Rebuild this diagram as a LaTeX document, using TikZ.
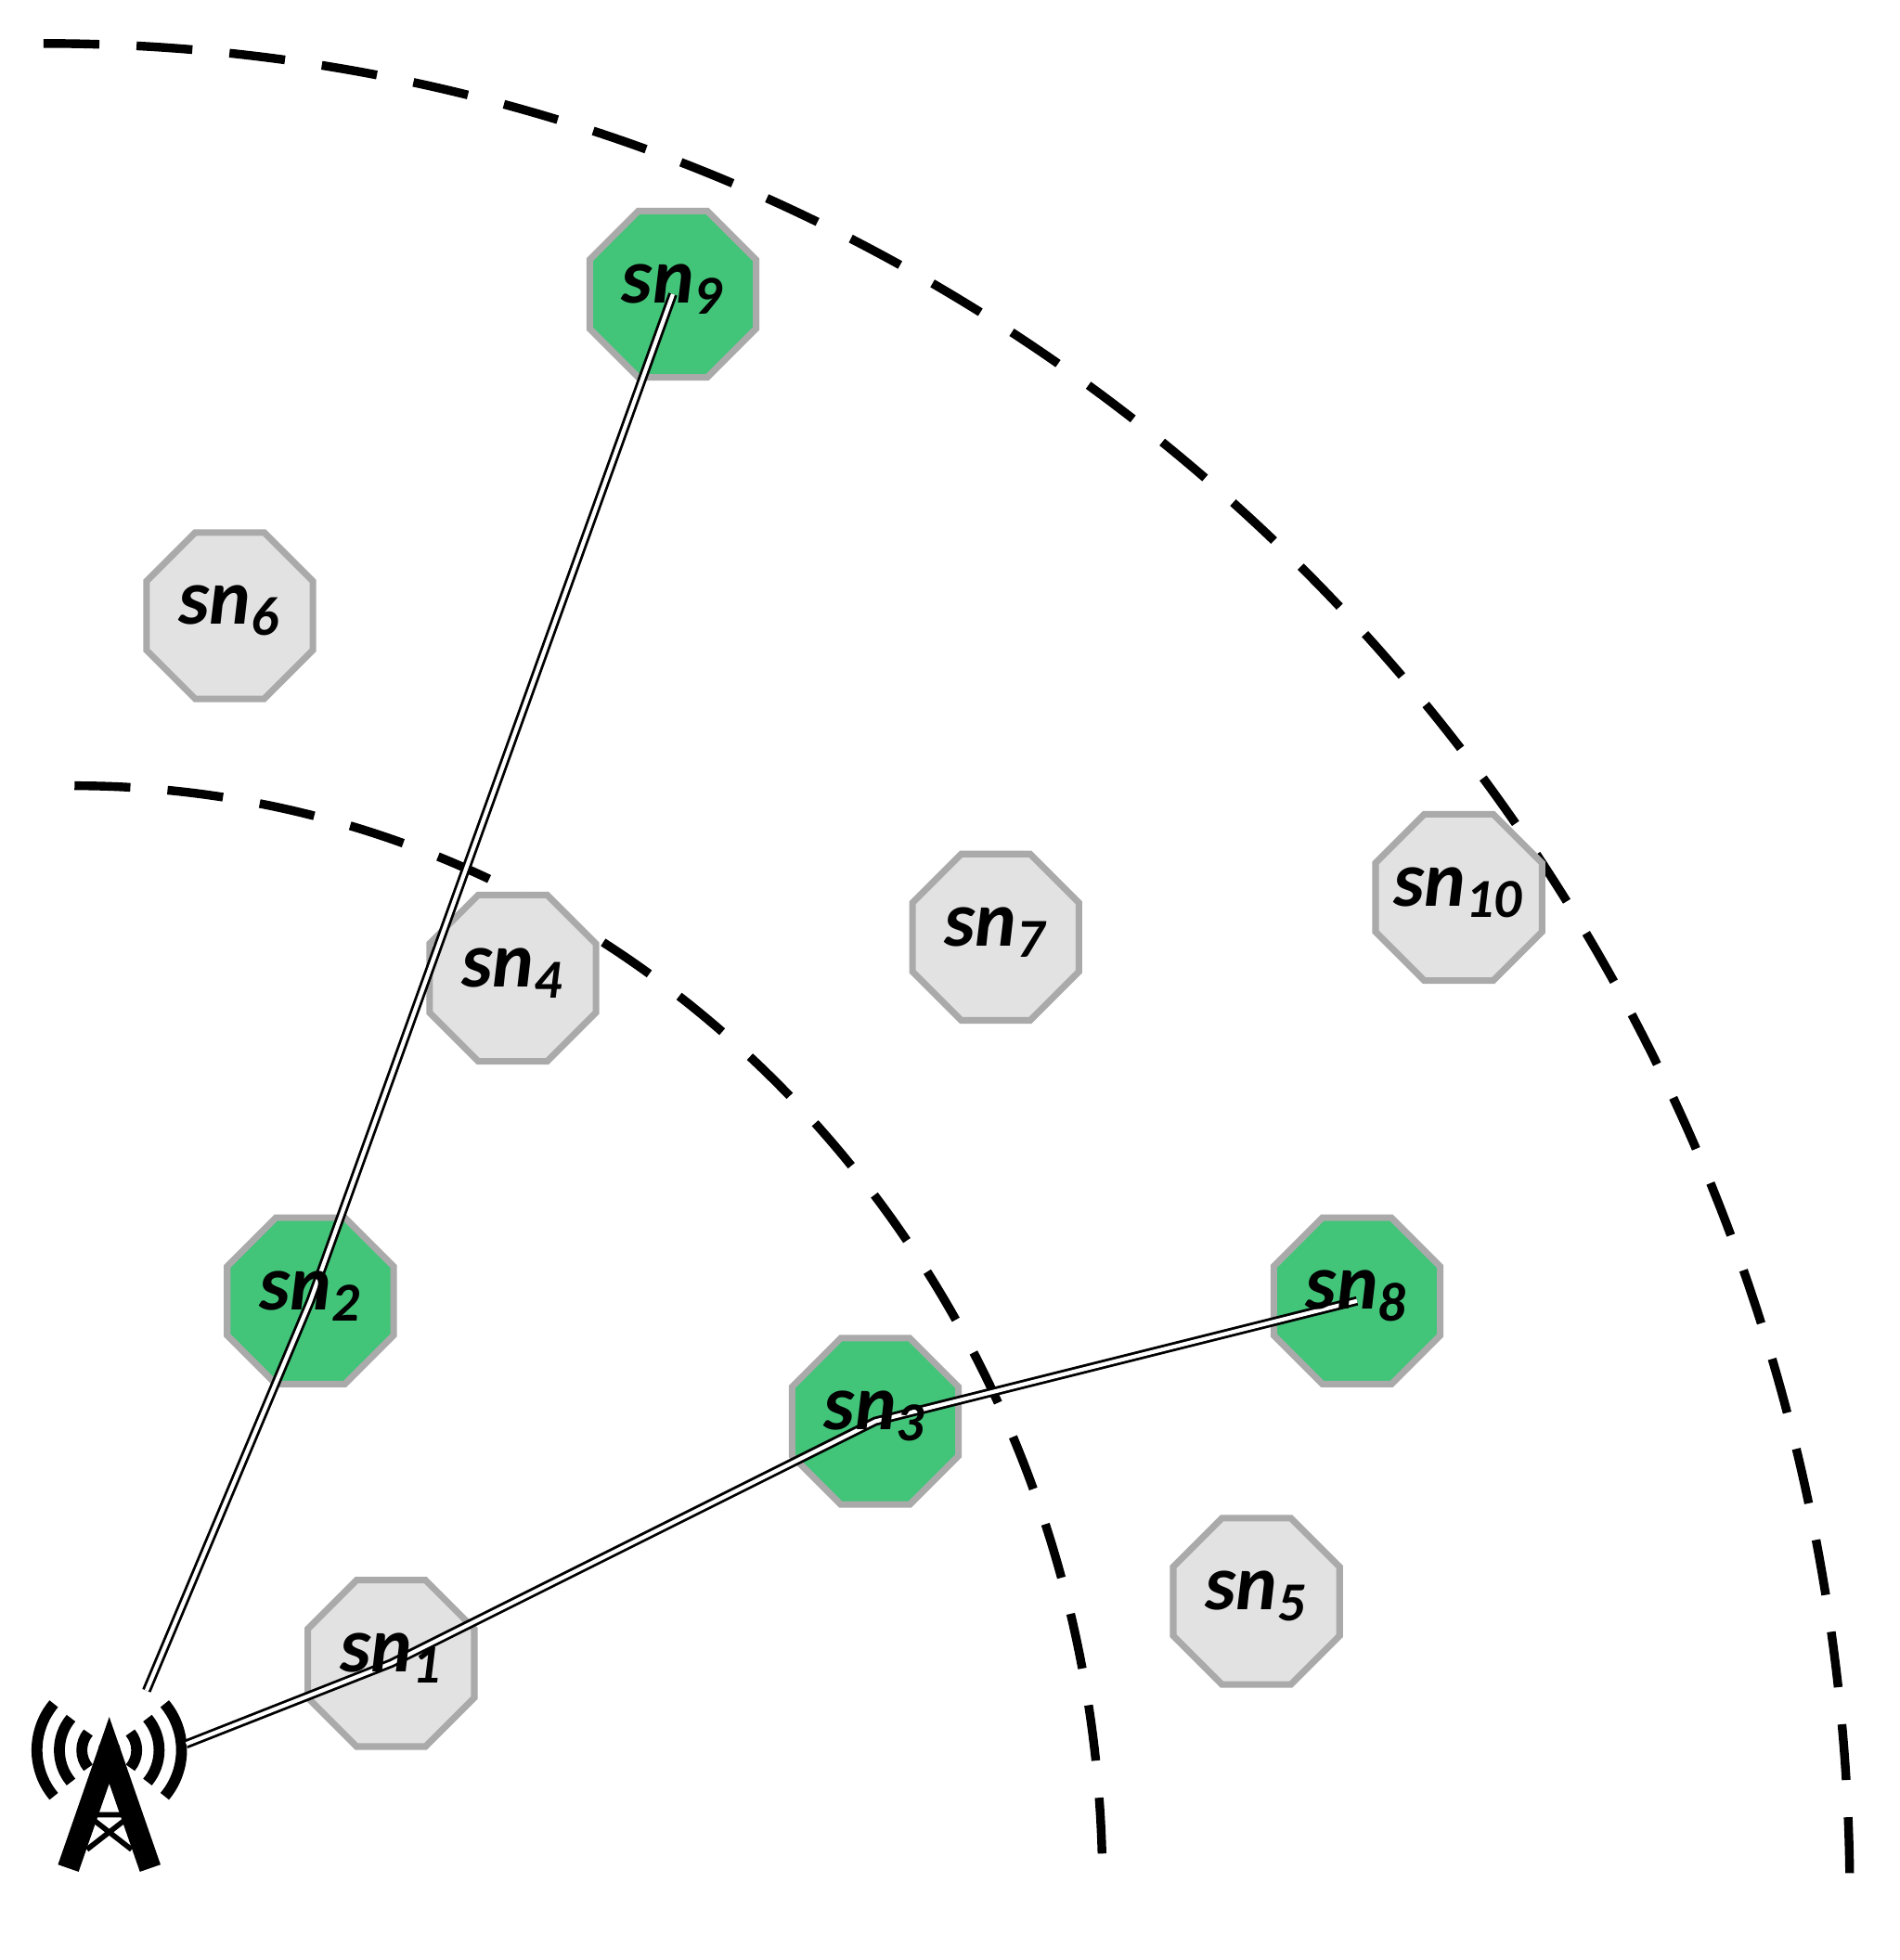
\documentclass[tikz,border=0pt]{standalone}
\usepackage{fontspec}
\setmainfont{Carlito}
\usetikzlibrary{shapes.geometric,calc}
\definecolor{gn}{RGB}{66,196,121}
\definecolor{gy}{RGB}{226,226,226}
\definecolor{bd}{RGB}{170,170,170}
\newcommand{\snl}[1]{sn\textsubscript{#1}}
\tikzset{
 lab/.style={font=\fontsize{18}{21}\selectfont\bfseries\itshape,inner sep=0pt},
 sn/.style={regular polygon,regular polygon sides=8,minimum size=1.45cm,draw=bd,line width=1.5pt,inner sep=0pt},
 grn/.style={sn,fill=gn}, gry/.style={sn,fill=gy},
 link/.style={double=white,double distance=0.9pt,line width=0.6pt,black},
 rng/.style={line width=2pt,dash pattern=on 0.45cm off 0.3cm}
}
\begin{document}
\begin{tikzpicture}[x=0.01cm,y=-0.01cm]
\useasboundingbox (0,0) rectangle (1530,1579);
\draw[rng] (60,633) arc[start angle=-90,end angle=0,x radius=828,y radius=887];
\draw[rng] (35,35) arc[start angle=-90,end angle=0,x radius=1455,y radius=1495];
\node[grn] (s9) at (542,237) {};
\node[gry] (s6) at (185,496) {};
\node[gry] (s4) at (413,788) {};
\node[gry] (s7) at (802,755) {};
\node[gry] (s10) at (1175,723) {};
\node[grn] (s2) at (250,1048) {};
\node[grn] (s3) at (705,1145) {};
\node[grn] (s8) at (1093,1048) {};
\node[gry] (s5) at (1012,1290) {};
\node[gry] (s1) at (315,1340) {};
\coordinate (t) at (88,1410);
\coordinate (ta) at (118,1362);
\coordinate (tb) at (150,1405);
\draw[line width=5pt,line join=miter] (55,1505) -- (88,1410) -- (121,1505);
\draw[line width=1.2pt] (70,1462) -- (106,1490) (106,1462) -- (70,1490) (70,1462)--(106,1462);
\fill (t) circle (9);
\foreach \r in {22,40,58}{
 \draw[line width=2.5pt] ($(t)+(-\r*0.77,\r*0.64)$) arc[start angle=140,end angle=220,radius=\r];
 \draw[line width=2.5pt] ($(t)+(\r*0.77,\r*0.64)$) arc[start angle=40,end angle=-40,radius=\r];
}
\draw[link] (ta) -- (s2.center) -- (s9.center);
\draw[link] (tb) -- (s1.center) -- (s3.center) -- (s8.center);
\foreach \n/\k in {s1/1,s2/2,s3/3,s4/4,s5/5,s6/6,s7/7,s8/8,s9/9,s10/10}{\node[lab] at ($(\n)+(0,-4)$) {\snl{\k}};}
\end{tikzpicture}
\end{document}
